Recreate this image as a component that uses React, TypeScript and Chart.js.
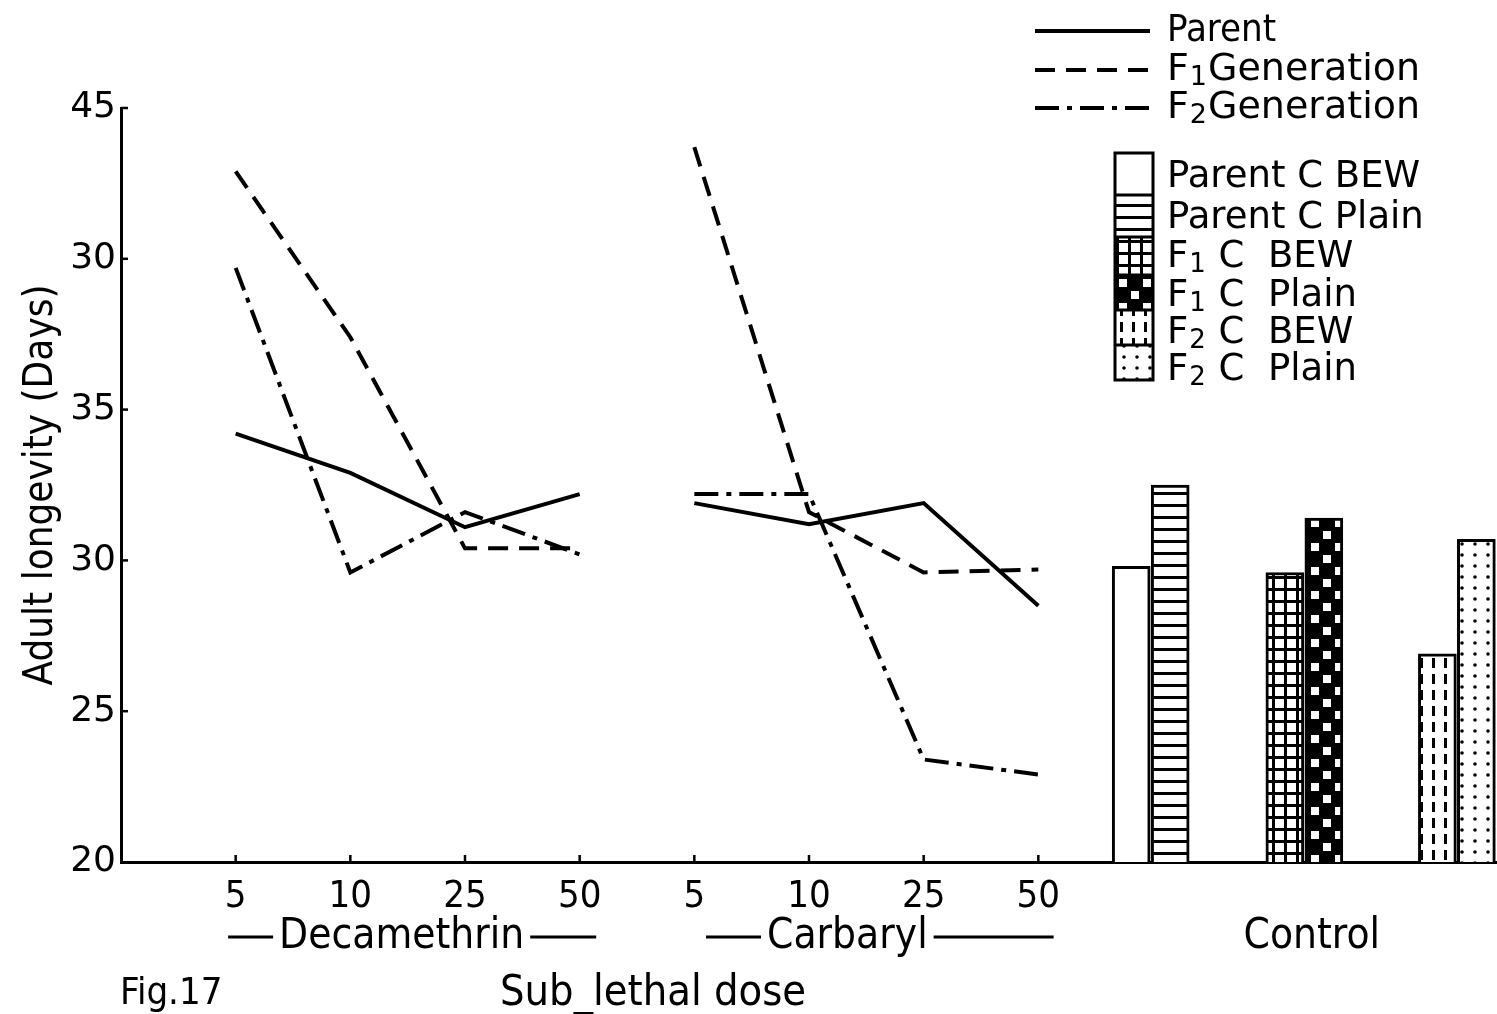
import React, { useEffect, useRef } from "react";
import { Chart, registerables } from "chart.js";

Chart.register(...registerables);

// ---- data ----
const doseLabels = ["5", "10", "25", "50", "5", "10", "25", "50"];
const yTickLabels = ["20", "25", "30", "35", "30", "45"];
const groupLabels = ["Decamethrin", "Carbaryl", "Control"];

const decParent = [34.2, 32.9, 31.1, 32.2];
const carbParent = [31.9, 31.2, 31.9, 28.5];
const decF1 = [42.9, 37.4, 30.4, 30.4];
const carbF1 = [43.7, 31.6, 29.6, 29.7];
const decF2 = [39.7, 29.6, 31.6, 30.2];
const carbF2 = [32.2, 32.2, 23.4, 22.9];

const controlLabels = ["Parent C BEW", "Parent C Plain", "F1 C BEW", "F1 C Plain", "F2 C BEW", "F2 C Plain"];
const controlValues = [29.8, 32.5, 29.6, 31.4, 26.9, 30.7];

const lineLegend = ["Parent", "F1Generation", "F2Generation"];

// ---- layout (positions on the x scale) ----
const decX = [1, 2, 3, 4];
const carbX = [5, 6, 7, 8];
const controlX = [8.81, 9.15, 10.15, 10.49, 11.48, 11.82];

const FONT = '"DejaVu Sans Condensed", "Liberation Sans Narrow", "DejaVu Sans", sans-serif';
const FONT2 = '"DejaVu Sans", sans-serif';

const dashes: Record<string, number[]> = {
  parent: [],
  f1: [20, 11],
  f2: [24, 8, 5, 8],
};

function makePattern(kind: string): CanvasPattern | string {
  const c = document.createElement("canvas");
  const g = c.getContext("2d")!;
  if (kind === "white") return "#ffffff";
  if (kind === "hstripe") {
    c.width = 12; c.height = 12;
    g.fillStyle = "#fff"; g.fillRect(0, 0, 12, 12);
    g.fillStyle = "#000"; g.fillRect(0, 0, 12, 3);
  } else if (kind === "grid") {
    c.width = 12; c.height = 12;
    g.fillStyle = "#000"; g.fillRect(0, 0, 12, 12);
    g.fillStyle = "#fff"; g.fillRect(3, 3, 9, 9);
  } else if (kind === "checker") {
    c.width = 24; c.height = 24;
    g.fillStyle = "#000"; g.fillRect(0, 0, 24, 24);
    g.fillStyle = "#fff"; g.fillRect(3, 3, 8, 8); g.fillRect(15, 15, 8, 8);
  } else if (kind === "vdash") {
    c.width = 12; c.height = 16;
    g.fillStyle = "#fff"; g.fillRect(0, 0, 12, 16);
    g.fillStyle = "#000"; g.fillRect(4, 2, 3, 10);
  } else if (kind === "dots") {
    c.width = 13; c.height = 11;
    g.fillStyle = "#fff"; g.fillRect(0, 0, 13, 11);
    g.fillStyle = "#000"; g.beginPath(); g.arc(6, 5, 1.8, 0, Math.PI * 2); g.fill();
  }
  return g.createPattern(c, "repeat")!;
}

const patternKinds = ["white", "hstripe", "grid", "checker", "vdash", "dots"];

export default function App() {
  const ref = useRef<HTMLCanvasElement>(null);

  useEffect(() => {
    const canvas = ref.current!;
    const patterns = patternKinds.map(makePattern);

    const lineDs = (label: string, xs: number[], ys: number[], key: string) => ({
      type: "line" as const,
      label,
      data: xs.map((x, i) => ({ x, y: ys[i] })),
      borderColor: "#000",
      borderWidth: 4,
      borderDash: dashes[key],
      pointRadius: 0,
      tension: 0,
      fill: false,
    });

    const datasets: any[] = [
      lineDs("Parent", decX, decParent, "parent"),
      lineDs("Parent", carbX, carbParent, "parent"),
      lineDs("F1", decX, decF1, "f1"),
      lineDs("F1", carbX, carbF1, "f1"),
      lineDs("F2", decX, decF2, "f2"),
      lineDs("F2", carbX, carbF2, "f2"),
      ...controlLabels.map((lab, i) => ({
        type: "bar" as const,
        label: lab,
        data: [{ x: controlX[i], y: controlValues[i] }],
        backgroundColor: patterns[i],
        borderColor: "#000",
        borderWidth: 3,
        borderSkipped: "bottom",
        barThickness: 38,
        grouped: false,
      })),
    ];

    const annot = {
      id: "annot",
      afterDraw(chart: any) {
        const ctx = chart.ctx as CanvasRenderingContext2D;
        const xs = chart.scales.x;
        const ys = chart.scales.y;
        const area = chart.chartArea;
        ctx.save();
        ctx.strokeStyle = "#000";
        ctx.fillStyle = "#000";
        // inward ticks
        ctx.lineWidth = 2.5;
        for (let v = 25; v <= 45; v += 5) {
          const py = ys.getPixelForValue(v);
          ctx.beginPath(); ctx.moveTo(area.left, py); ctx.lineTo(area.left + 7, py); ctx.stroke();
        }
        [...decX, ...carbX].forEach((x) => {
          const px = xs.getPixelForValue(x);
          ctx.beginPath(); ctx.moveTo(px, area.bottom); ctx.lineTo(px, area.bottom - 7); ctx.stroke();
        });

        // group labels
        ctx.font = `42px ${FONT}`;
        ctx.textBaseline = "middle";
        ctx.textAlign = "center";
        const gy = 937;
        const drawGroup = (label: string, x0: number, x1: number, shift: number, dashL: number, dashR: number) => {
          const cx = (xs.getPixelForValue(x0) + xs.getPixelForValue(x1)) / 2 + shift;
          const w = ctx.measureText(label).width;
          ctx.fillText(label, cx, gy);
          ctx.lineWidth = 3;
          ctx.beginPath();
          ctx.moveTo(cx - w / 2 - 6 - dashL, gy); ctx.lineTo(cx - w / 2 - 6, gy);
          ctx.moveTo(cx + w / 2 + 6, gy); ctx.lineTo(cx + w / 2 + 6 + dashR, gy);
          ctx.stroke();
        };
        drawGroup(groupLabels[0], decX[0], decX[3], -6, 45, 66);
        drawGroup(groupLabels[1], carbX[0], carbX[3], -19, 55, 120);
        ctx.fillText(groupLabels[2], (xs.getPixelForValue(controlX[0]) + xs.getPixelForValue(controlX[5])) / 2 + 8, gy);

        ctx.textAlign = "left";
        ctx.font = `38px ${FONT}`;
        ctx.fillText("Fig.17", 120, 994);
        ctx.font = `43px ${FONT}`;
        ctx.fillText("Sub_lethal dose", 500, 994);

        // line legend
        const legY = [31, 70, 108];
        const legKeys = ["parent", "f1", "f2"];
        legKeys.forEach((k, i) => {
          ctx.lineWidth = 4;
          ctx.setLineDash(dashes[k]);
          ctx.beginPath(); ctx.moveTo(1035, legY[i]); ctx.lineTo(1150, legY[i]); ctx.stroke();
          ctx.setLineDash([]);
        });
        ctx.font = `38px ${FONT}`;
        ctx.fillText(lineLegend[0], 1167, legY[0]);
        const sub = (main: string, s: string, rest: string, x: number, y: number, big: number, fam: string) => {
          ctx.font = `${big}px ${fam}`;
          ctx.fillText(main, x, y);
          let cx = x + ctx.measureText(main).width;
          ctx.font = `${Math.round(big * 0.7)}px ${fam}`;
          ctx.fillText(s, cx + 1, y + 8);
          cx += ctx.measureText(s).width + 2;
          ctx.font = `${big}px ${fam}`;
          ctx.fillText(rest, cx, y);
        };
        sub("F", "1", "Generation", 1167, legY[1], 38, FONT2);
        sub("F", "2", "Generation", 1167, legY[2], 38, FONT2);

        // pattern legend
        const boxY = [153, 195, 237, 275, 310, 345, 380];
        for (let i = 0; i < 6; i++) {
          ctx.fillStyle = patterns[i] as any;
          ctx.fillRect(1115, boxY[i], 38, boxY[i + 1] - boxY[i]);
        }
        ctx.fillStyle = "#000";
        ctx.lineWidth = 3;
        ctx.strokeRect(1115, boxY[0], 38, boxY[6] - boxY[0]);
        for (let i = 1; i < 6; i++) {
          ctx.beginPath(); ctx.moveTo(1115, boxY[i]); ctx.lineTo(1153, boxY[i]); ctx.stroke();
        }
        const textY = [177, 218, 257, 296, 333, 370];
        ctx.font = `37px ${FONT2}`;
        ctx.fillText(controlLabels[0], 1167, textY[0]);
        ctx.fillText(controlLabels[1], 1167, textY[1]);
        sub("F", "1", " C  BEW", 1167, textY[2], 37, FONT2);
        sub("F", "1", " C  Plain", 1167, textY[3], 37, FONT2);
        sub("F", "2", " C  BEW", 1167, textY[4], 37, FONT2);
        sub("F", "2", " C  Plain", 1167, textY[5], 37, FONT2);
        ctx.restore();
      },
    };

    const chart = new Chart(canvas, {
      type: "bar",
      data: { datasets },
      options: {
        responsive: false,
        animation: false,
        layout: { padding: { top: 108, left: 0, right: 0, bottom: 0 } },
        plugins: { legend: { display: false }, tooltip: { enabled: false } },
        scales: {
          x: {
            type: "linear",
            min: 0,
            max: 12,
            offset: false,
            grid: { display: false, drawTicks: false },
            border: { display: true, color: "#000", width: 3 },
            afterBuildTicks: (s: any) => {
              s.ticks = doseLabels.map((_, i) => ({ value: i + 1 }));
            },
            afterFit: (s: any) => { s.height = 1014 - 862; },
            ticks: {
              autoSkip: false,
              maxRotation: 0,
              padding: 12,
              color: "#000",
              font: { family: FONT, size: 38 },
              callback: (_v: any, i: number) => doseLabels[i],
            },
          },
          y: {
            type: "linear",
            min: 20,
            max: 45,
            grid: { display: false, drawTicks: false },
            border: { display: true, color: "#000", width: 3 },
            afterFit: (s: any) => { s.width = 121; },
            ticks: {
              stepSize: 5,
              padding: 5,
              color: "#000",
              font: { family: FONT2, size: 36 },
              callback: (v: any) => yTickLabels[Math.round((Number(v) - 20) / 5)],
            },
            title: {
              display: true,
              text: "Adult longevity (Days)",
              color: "#000",
              font: { family: FONT, size: 40 },
              padding: { top: 18, bottom: 0 },
            },
          },
        },
      },
      plugins: [annot],
    } as any);

    return () => chart.destroy();
  }, []);

  return (
    <div style={{ position: "absolute", left: 0, top: 0, width: 1497, height: 1014, background: "#fff" }}>
      <canvas ref={ref} width={1497} height={1014} />
    </div>
  );
}
